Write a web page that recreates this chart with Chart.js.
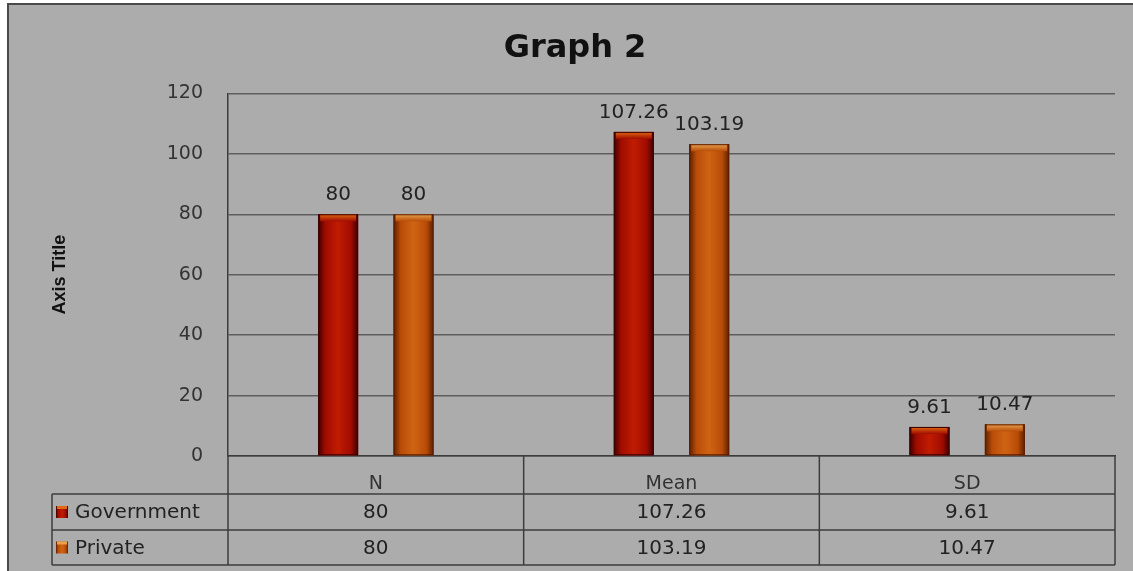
<!DOCTYPE html>
<html>
<head>
<meta charset="utf-8">
<script src="https://cdn.jsdelivr.net/npm/chart.js@4.4.1/dist/chart.umd.min.js"></script>
<style>
  html, body { margin: 0; padding: 0; background: #fff; }
  #wrap { width: 1133px; height: 571px; }
</style>
</head>
<body>
<div id="wrap"><canvas id="graph" width="1133" height="571"></canvas></div>
<script>
// chart data
const categories = ['N', 'Mean', 'SD'];
const seriesNames = ['Government', 'Private'];
const governmentValues = [80, 107.26, 9.61];
const privateValues = [80, 103.19, 10.47];
const yTickValues = [0, 20, 40, 60, 80, 100, 120];

// bar shading per series: edge, body, centre, cap
const shades = [
    { edge: '#3e0000', body: '#a00c00', centre: '#c01c02', cap: '#e06a12' },
    { edge: '#5c1e00', body: '#b84c08', centre: '#d06414', cap: '#e8a24e' }
];

const FONT = "'DejaVu Sans', Verdana, sans-serif";
const rowLines = [494, 530, 565];   // table row separators
const tableLeft = 52;

function cylinder(ctx, x0, x1, s) {
    const g = ctx.createLinearGradient(x0, 0, x1, 0);
    g.addColorStop(0, s.edge);
    g.addColorStop(0.18, s.body);
    g.addColorStop(0.5, s.centre);
    g.addColorStop(0.82, s.body);
    g.addColorStop(1, s.edge);
    return g;
}

const backgroundPlugin = {
    id: 'background',
    beforeDraw(chart) {
        const ctx = chart.ctx;
        ctx.save();
        ctx.fillStyle = '#ffffff';
        ctx.fillRect(0, 0, chart.width, chart.height);
        ctx.fillStyle = '#acacac';
        ctx.fillRect(7, 3, chart.width - 7, chart.height - 3);
        ctx.strokeStyle = '#4a4a4a';
        ctx.lineWidth = 2;
        ctx.beginPath();
        ctx.moveTo(8, chart.height);
        ctx.lineTo(8, 4);
        ctx.lineTo(chart.width, 4);
        ctx.stroke();
        ctx.restore();
    }
};

// paint the bars as cylinders and put value labels on top
const barPlugin = {
    id: 'cylinderBars',
    afterDatasetsDraw(chart) {
        const ctx = chart.ctx;
        ctx.save();
        chart.data.datasets.forEach((ds, di) => {
            const s = shades[di];
            chart.getDatasetMeta(di).data.forEach((bar, i) => {
                const p = bar.getProps(['x', 'y', 'width', 'base'], true);
                const x0 = p.x - p.width / 2, x1 = p.x + p.width / 2;
                ctx.fillStyle = cylinder(ctx, x0, x1, s);
                ctx.fillRect(x0, p.y, p.width, p.base - p.y);
                // top cap
                const capG = ctx.createLinearGradient(0, p.y, 0, p.y + 7);
                capG.addColorStop(0, s.cap);
                capG.addColorStop(1, s.body);
                ctx.fillStyle = capG;
                ctx.fillRect(x0 + 2, p.y, p.width - 4, 7);
                ctx.strokeStyle = s.edge;
                ctx.lineWidth = 1;
                ctx.strokeRect(x0 + 0.5, p.y + 0.5, p.width - 1, p.base - p.y - 1);

                ctx.fillStyle = '#222';
                ctx.font = '20px ' + FONT;
                ctx.textAlign = 'center';
                ctx.textBaseline = 'alphabetic';
                ctx.fillText(String(ds.data[i]), p.x, p.y - 14);
            });
        });
        ctx.restore();
    }
};

// data table under the x axis
const tablePlugin = {
    id: 'dataTable',
    afterDraw(chart) {
        const ctx = chart.ctx;
        const xs = chart.scales.x;
        const area = chart.chartArea;
        const top = area.bottom;
        ctx.save();
        ctx.strokeStyle = '#3c3c3c';
        ctx.lineWidth = 1.5;
        ctx.beginPath();
        rowLines.forEach(y => {
            ctx.moveTo(tableLeft, y);
            ctx.lineTo(area.right, y);
        });
        ctx.moveTo(tableLeft, rowLines[0]);
        ctx.lineTo(tableLeft, rowLines[2]);
        const bounds = [area.left];
        for (let i = 0; i < categories.length - 1; i++) {
            bounds.push((xs.getPixelForValue(i) + xs.getPixelForValue(i + 1)) / 2);
        }
        bounds.push(area.right);
        bounds.forEach(x => {
            ctx.moveTo(x, top);
            ctx.lineTo(x, rowLines[2]);
        });
        ctx.stroke();

        ctx.font = '20px ' + FONT;
        ctx.fillStyle = '#222';
        ctx.textBaseline = 'middle';
        chart.data.datasets.forEach((ds, di) => {
            const yTop = rowLines[di], yBot = rowLines[di + 1];
            const yc = (yTop + yBot) / 2;
            // legend key
            const k = 12;
            const kx = tableLeft + 4;
            ctx.fillStyle = cylinder(ctx, kx, kx + k, shades[di]);
            ctx.fillRect(kx, yc - k / 2, k, k);
            ctx.fillStyle = shades[di].cap;
            ctx.fillRect(kx + 1, yc - k / 2, k - 2, 3);
            ctx.fillStyle = '#222';
            ctx.textAlign = 'left';
            ctx.fillText(ds.label, tableLeft + 23, yc + 1);
            ctx.textAlign = 'center';
            ds.data.forEach((v, i) => {
                ctx.fillText(String(v), xs.getPixelForValue(i), yc + 1);
            });
        });
        ctx.restore();
    }
};

new Chart(document.getElementById('graph'), {
    type: 'bar',
    data: {
        labels: categories,
        datasets: [
            { label: seriesNames[0], data: governmentValues, backgroundColor: shades[0].body },
            { label: seriesNames[1], data: privateValues, backgroundColor: shades[1].body }
        ]
    },
    options: {
        responsive: false,
        animation: false,
        devicePixelRatio: 1,
        categoryPercentage: 0.51,
        barPercentage: 0.53,
        layout: { padding: { left: 35, right: 18, top: 0, bottom: 0 } },
        plugins: {
            legend: { display: false },
            tooltip: { enabled: false },
            title: {
                display: true,
                text: 'Graph 2',
                color: '#111',
                font: { family: FONT, size: 32, weight: 'bold' },
                padding: { top: 29, bottom: 26 }
            }
        },
        scales: {
            x: {
                grid: { display: false },
                border: { display: true, color: '#3c3c3c', width: 1.5 },
                ticks: { color: '#333', font: { family: FONT, size: 19 }, padding: 9 },
                afterFit(scale) { scale.height = 115; }
            },
            y: {
                min: 0,
                max: 120,
                afterBuildTicks(scale) { scale.ticks = yTickValues.map(v => ({ value: v })); },
                grid: { color: '#5e5e5e', lineWidth: 1.5, drawTicks: false },
                border: { display: true, color: '#3c3c3c', width: 1.5 },
                ticks: { color: '#333', font: { family: FONT, size: 19 }, padding: 25 },
                title: {
                    display: true,
                    text: 'Axis Title',
                    color: '#111',
                    font: { family: "'Liberation Sans Narrow', 'Liberation Sans', sans-serif", size: 18, weight: 'bold' },
                    padding: { top: 14, bottom: 0 }
                },
                afterFit(scale) { scale.width = 193; }
            }
        }
    },
    plugins: [backgroundPlugin, barPlugin, tablePlugin]
});
</script>
</body>
</html>
